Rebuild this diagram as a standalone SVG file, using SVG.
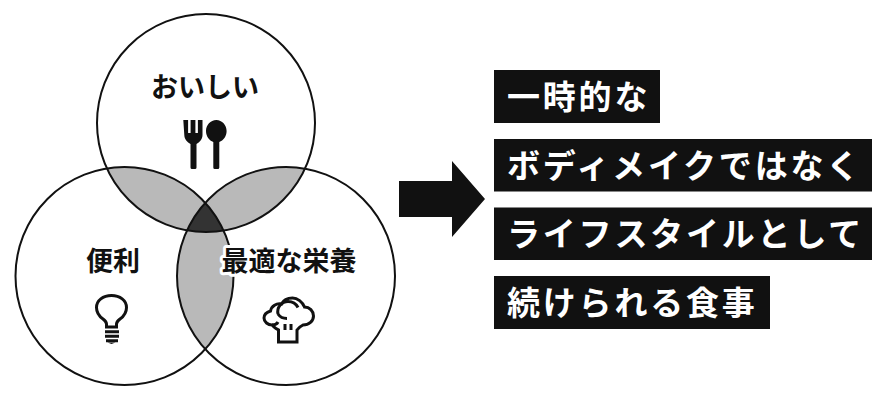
<svg xmlns="http://www.w3.org/2000/svg" width="887" height="411" viewBox="0 0 887 411">
<style>
text{font-family:"Noto Sans CJK JP","Noto Sans",sans-serif}
.c{fill:none;stroke:#111;stroke-width:2}
.lab{font-size:27px;font-weight:700;fill:#111;text-anchor:middle}
.box{fill:#111}
.tag{font-size:33px;font-weight:700;fill:#fff;letter-spacing:2.8px}
.ln{fill:none;stroke:#111;stroke-width:3}
</style>
<defs>
<clipPath id="ct"><circle cx="206" cy="123" r="109"/></clipPath>
<clipPath id="cl"><circle cx="124.5" cy="276" r="109"/></clipPath>
<clipPath id="cr"><circle cx="286" cy="276" r="109"/></clipPath>
</defs>
<rect width="887" height="411" fill="#fff"/>
<g id="overlaps">
<g clip-path="url(#ct)"><circle cx="124.5" cy="276" r="109" fill="#b9b9b9"/><circle cx="286" cy="276" r="109" fill="#b9b9b9"/></g>
<g clip-path="url(#cl)"><circle cx="286" cy="276" r="109" fill="#b9b9b9"/></g>
<g clip-path="url(#cl)"><g clip-path="url(#cr)"><circle cx="206" cy="123" r="109" fill="#333"/></g></g>
</g>
<g id="node-top">
<circle class="c" cx="206" cy="123" r="109"/>
<text class="lab" x="205" y="97">おいしい</text>
<path fill="#111" d="M183.300 120h4.800v13h2.500v-13h4.800v13h2.500v-13h4.600v15c0 4-3 7.500-6 9v23.500q0 1.500-1.500 1.500h-3q-1.500 0-1.500-1.500v-23.500c-3-1.500-6.200-5-6.200-9z"/>
<path fill="#111" d="M216.300 120c5.800 0 10.300 5 10.300 11 0 5.500-3.300 9.500-7.300 11v25.500q0 1.500-1.500 1.500h-3q-1.500 0-1.500-1.500v-25.500c-4-1.500-7.300-5.500-7.300-11 0-6 4.500-11 10.300-11z"/>
</g>
<g id="node-left">
<circle class="c" cx="124.500" cy="276" r="109"/>
<text class="lab" x="113" y="271">便利</text>
<path class="ln" d="M106.500 327v-3c0-2-1.500-3.500-3.500-5-3.500-2.500-6.500-6.500-6.500-11.500 0-7 6.500-12 15-12s15 5 15 12c0 5-3 9-6.500 11.500-2 1.500-3.500 3-3.500 5v3z"/>
<path class="ln" d="M105 331.700h14M105 336.200h14M106 340.700h12"/>
<path fill="#111" d="M107.500 342.500h8l-4 1.500z"/>
</g>
<g id="node-right">
<circle class="c" cx="286" cy="276" r="109"/>
<text class="lab" x="289" y="271" stroke="#fff" stroke-width="6" stroke-linejoin="round" paint-order="stroke">最適な栄養</text>
<path class="ln" d="M278.500 342h18.500v-12c2-3 4-4 6-5 6 0 10.500-4 10.500-9 0-5-4-9-9-9-2-5-7-9-12-9-5 0-9 2-11 6-5-1-10 2-11 7-3 1-6.500 3-6.500 7 0 4 4 7 8 7 2 2 4 4 6.500 5z"/>
<path class="ln" d="M278 314c-1.500-7 4-12.500 10-12.500 4 0 8 2 10 6M278 314c2 3 5 4.500 9 4.500M272 325c3 0 5-1 6-3M285 330v-6M291 330v-6"/>
</g>
<g id="connectors">
<path fill="#111" d="M399 181h53v-20l33 38-33 38v-20h-53z"/>
</g>
<g id="tag-1"><rect class="box" x="494" y="70" width="166" height="53"/><text class="tag" x="507" y="108.500">一時的な</text></g>
<g id="tag-2"><rect class="box" x="494" y="139" width="378" height="52.500"/><text class="tag" x="507" y="177.500">ボディメイクではなく</text></g>
<g id="tag-3"><rect class="box" x="494" y="207.500" width="378" height="52.500"/><text class="tag" x="507" y="246">ライフスタイルとして</text></g>
<g id="tag-4"><rect class="box" x="494" y="276" width="276" height="53"/><text class="tag" x="507" y="314.500">続けられる食事</text></g>
</svg>
